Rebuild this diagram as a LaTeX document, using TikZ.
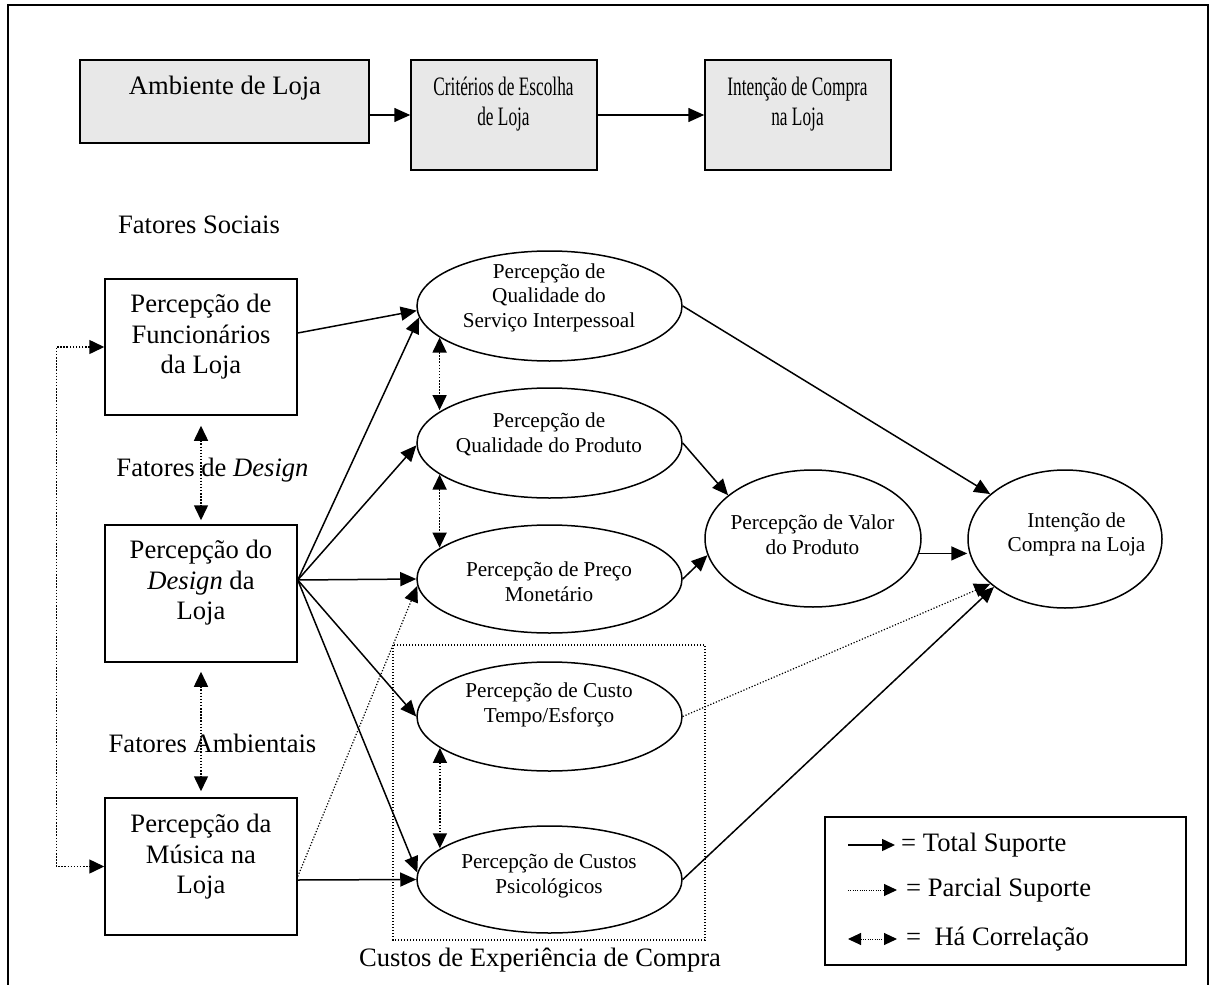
\documentclass[tikz,border=0pt]{standalone}
\usepackage{fontspec}
\usepackage{graphicx}
\setmainfont{Liberation Serif}
\usetikzlibrary{arrows.meta,shapes.geometric}
\definecolor{boxgray}{RGB}{232,232,232}
% horizontally condensed line of text
\newcommand{\narrowline}[1]{\scalebox{0.65}[1]{#1}}
\begin{document}
\begin{tikzpicture}[x=1pt,y=-1pt,
  big/.style={font=\fontsize{26.6}{30.5}\selectfont, align=center, inner sep=0pt},
  small/.style={font=\fontsize{21.2}{24.5}\selectfont, align=center, inner sep=0pt},
  rbox/.style={draw, rectangle, line width=1.5pt, inner sep=0pt},
  gbox/.style={rbox, fill=boxgray},
  oval/.style={draw, ellipse, line width=1.5pt, inner sep=0pt},
  arr/.style={line width=1.5pt, -{Triangle[length=16pt,width=14pt]}},
  partial/.style={line width=1.2pt, dash pattern=on 1.2pt off 1.8pt, -{Triangle[length=16pt,width=14pt]}},
  corr/.style={line width=1.5pt, dash pattern=on 1.5pt off 1.6pt, {Triangle[length=15pt,width=14pt]}-{Triangle[length=15pt,width=14pt]}},
  thindot/.style={line width=1.2pt, dash pattern=on 1.2pt off 1.8pt},
]
\useasboundingbox (0,0) rectangle (1211,985);
\fill[white] (0,0) rectangle (1211,985);

% outer frame, open at the bottom
\draw[line width=1.5pt] (8,985) -- (8,5) -- (1208,5) -- (1208,985);

% top row
\node[gbox, minimum width=289pt, minimum height=83pt] (amb) at (224.5,101.5) {};
\node[gbox, minimum width=186pt, minimum height=110pt] (crit) at (504,115) {};
\node[gbox, minimum width=186pt, minimum height=110pt] (intb) at (798,115) {};
\node[big] (amb-t) at (225,88) {Ambiente de Loja};
\node[big] (crit-t) at (503.5,104) {\narrowline{Critérios de Escolha}\\\narrowline{de Loja}};
\node[big] (intb-t) at (797.5,104) {\narrowline{Intenção de Compra}\\\narrowline{na Loja}};
\draw[arr] (amb.east |- crit.west) -- (crit.west);
\draw[arr] (crit.east) -- (intb.west);

% factor labels
\node[big] (fsoc) at (199,225) {Fatores Sociais};
\node[big] (fdes) at (212.5,470) {Fatores de \textit{Design}};
\node[big] (famb) at (212.5,743) {Fatores Ambientais};

% left column boxes
\node[rbox, minimum width=192pt, minimum height=136pt] (F) at (201,347) {};
\node[rbox, minimum width=192pt, minimum height=137pt] (D) at (201,593.5) {};
\node[rbox, minimum width=192pt, minimum height=137pt] (M) at (201,866.5) {};
\node[big] (F-t) at (201,337) {Percepção de\\Funcionários\\da Loja};
\node[big] (D-t) at (201,583) {Percepção do\\\textit{Design} da\\Loja};
\node[big] (M-t) at (201,857) {Percepção da\\Música na\\Loja};

% ellipses
\node[oval, minimum width=265pt, minimum height=110pt] (E1) at (549.5,306) {};
\node[oval, minimum width=265pt, minimum height=110pt] (E2) at (549.5,443) {};
\node[oval, minimum width=265pt, minimum height=108pt] (E3) at (549.5,579) {};
\node[oval, minimum width=265pt, minimum height=109pt] (E4) at (549.5,716.5) {};
\node[oval, minimum width=265pt, minimum height=107pt] (E5) at (549.5,879.5) {};
\node[oval, minimum width=216pt, minimum height=137pt] (E6) at (813,538.5) {};
\node[oval, minimum width=194pt, minimum height=138pt] (E7) at (1065,539) {};
\node[small] (E1-t) at (549,297.5) {Percepção de\\Qualidade do\\Serviço Interpessoal};
\node[small] (E2-t) at (549,434.5) {Percepção de\\Qualidade do Produto};
\node[small] (E3-t) at (549,581.5) {Percepção de Preço\\Monetário};
\node[small] (E4-t) at (549,705) {Percepção de Custo\\Tempo/Esforço};
\node[small] (E5-t) at (549,876) {Percepção de Custos\\Psicológicos};
\node[small] (E6-t) at (812.5,534.5) {Percepção de Valor\\do Produto};
\node[small] (E7-t) at (1076.5,534.5) {Intenção de\\Compra na Loja};

% shopping experience cost group
\draw[thindot] (393,645) rectangle (705,940);
\node[big] (cust) at (540,960) {Custos de Experiência de Compra};

% starting points on the box sides
\coordinate (Fout) at ([yshift=14pt]F.east);
\coordinate (Dfan) at ([yshift=13.5pt]D.east);
\coordinate (Mout) at ([yshift=-13.5pt]M.east);
\coordinate (Mdot) at ([yshift=-10pt]M.east);

% full support paths
\draw[arr] (Fout) -- (E1.182);
\draw[arr] (Dfan) -- (E1.185);
\draw[arr] (Dfan) -- (E2.181);
\draw[arr] (Dfan) -- (E3.west);
\draw[arr] (Dfan) -- (E4.west);
\draw[arr] (Dfan) -- (E5.177);
\draw[arr] (Mout) -- (E5.west);
\draw[arr] (E1.east) -- (E7.149);
\draw[arr] (E2.east) -- (E6.153);
\draw[arr] (E3.east) -- (E6.189);
\draw[arr] (E6.-8) -- (E6.-8 -| E7.west);
\draw[arr] (E5.east) -- (E7.214);

% partial support paths
\draw[partial] (Mdot) -- (E3.183);
\draw[partial] (E4.east) -- (E7.211);

% correlations
\draw[corr, shorten <=10pt, shorten >=4pt] (F.south) -- (D.north);
\draw[corr, shorten <=9pt, shorten >=6pt] (D.south) -- (M.north);
\draw[corr] (F.west) -- ++(-48,0) |- (M.west);
\draw[corr] (E1.196.2) -- (E1.196.2 |- E2.163.8);
\draw[corr] (E2.196.2) -- (E2.196.2 |- E3.164.1);
\draw[corr] (E4.196.1) -- (E4.196.1 |- E5.164.2);

% legend
\node[rbox, minimum width=361pt, minimum height=148pt] (leg) at (1005.5,891) {};
\coordinate (l1a) at (848,845);
\coordinate (l1b) at (895,845);
\coordinate (l2a) at (848,890);
\coordinate (l2b) at (897,890);
\coordinate (l3a) at (848,939);
\coordinate (l3b) at (897,939);
\draw[line width=1.5pt, -{Triangle[length=13pt,width=12pt]}] (l1a) -- (l1b);
\draw[line width=1pt, dash pattern=on 1pt off 1.3pt, -{Triangle[length=13pt,width=12pt]}] (l2a) -- (l2b);
\draw[line width=1pt, dash pattern=on 1pt off 1.3pt, {Triangle[length=13pt,width=12pt]}-{Triangle[length=13pt,width=12pt]}] (l3a) -- (l3b);
\node[big, anchor=west] (l1t) at (901,845) {= Total Suporte};
\node[big, anchor=west] (l2t) at (906,890) {= Parcial Suporte};
\node[big, anchor=west] (l3t) at (906,939) {=~~Há Correlação};
\end{tikzpicture}
\end{document}
